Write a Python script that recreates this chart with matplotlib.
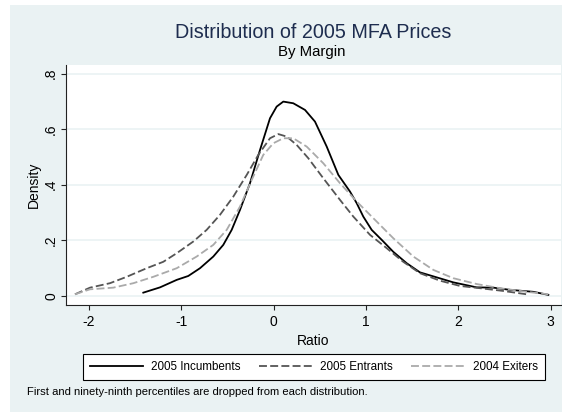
import matplotlib
matplotlib.use('Agg')
import matplotlib.pyplot as plt
from matplotlib.patches import Rectangle

plt.rcParams['font.family'] = ['Liberation Sans', 'DejaVu Sans']

# kernel density curves
inc_x = [-1.412, -1.231, -1.05, -0.925, -0.798, -0.654, -0.546, -0.455, -0.365, -0.257,
         -0.148, -0.040, 0.032, 0.104, 0.212, 0.339, 0.447, 0.574, 0.700, 0.826,
         0.899, 0.970, 1.061, 1.170, 1.295, 1.440, 1.584, 1.765, 1.945, 2.198,
         2.378, 2.559, 2.811, 2.974]
inc_y = [0.011, 0.030, 0.057, 0.071, 0.099, 0.141, 0.183, 0.237, 0.309, 0.405,
         0.525, 0.639, 0.681, 0.699, 0.693, 0.669, 0.627, 0.537, 0.435, 0.375,
         0.333, 0.285, 0.237, 0.201, 0.158, 0.117, 0.084, 0.066, 0.048, 0.030,
         0.029, 0.021, 0.014, 0.003]

ent_x = [-2.152, -1.989, -1.773, -1.592, -1.375, -1.196, -1.050, -0.871, -0.726, -0.582,
         -0.437, -0.292, -0.167, -0.040, 0.050, 0.141, 0.249, 0.375, 0.537, 0.718,
         0.862, 1.043, 1.224, 1.403, 1.584, 1.801, 2.018, 2.234, 2.487, 2.740]
ent_y = [0.005, 0.029, 0.045, 0.068, 0.099, 0.122, 0.153, 0.195, 0.237, 0.291,
         0.357, 0.435, 0.507, 0.567, 0.582, 0.573, 0.543, 0.495, 0.423, 0.345,
         0.285, 0.219, 0.171, 0.122, 0.081, 0.054, 0.035, 0.027, 0.017, 0.005]

exi_x = [-2.152, -1.989, -1.737, -1.520, -1.304, -1.050, -0.834, -0.654, -0.509, -0.365,
         -0.238, -0.113, -0.004, 0.104, 0.212, 0.357, 0.537, 0.718, 0.899, 1.079,
         1.295, 1.512, 1.728, 1.945, 2.198, 2.451, 2.740, 2.974]
exi_y = [0.005, 0.023, 0.029, 0.045, 0.068, 0.099, 0.141, 0.183, 0.237, 0.321,
         0.417, 0.507, 0.549, 0.567, 0.567, 0.537, 0.477, 0.405, 0.339, 0.279,
         0.207, 0.141, 0.093, 0.063, 0.042, 0.027, 0.014, 0.005]

x_ticks = [-2, -1, 0, 1, 2, 3]
y_ticks = [0, 0.2, 0.4, 0.6, 0.8]
y_labels = ['0', '.2', '.4', '.6', '.8']

W, H = 562, 413
bg = '#EAF2F3'

fig = plt.figure(figsize=(W / 100, H / 100), dpi=100, facecolor='white')
fig.patches.append(Rectangle((10 / W, 1 / H), (W - 10) / W, (H - 6) / H,
                             transform=fig.transFigure, facecolor=bg,
                             edgecolor='none', zorder=-5))

ax = fig.add_axes([66 / W, 1 - 305 / H, (561 - 66) / W, (305 - 64.5) / H])
ax.set_zorder(2)
ax.set_facecolor('white')

ax.plot(inc_x, inc_y, color='black', lw=1.3, label='2005 Incumbents')
ax.plot(ent_x, ent_y, color='#555555', lw=1.3, dashes=(4.4, 1.8), label='2005 Entrants')
ax.plot(exi_x, exi_y, color='#AAAAAA', lw=1.3, dashes=(4.4, 1.8), label='2004 Exiters')

ax.set_xlim(-2.249, 3.111)
ax.set_ylim(-0.0335, 0.8326)
ax.set_xticks(x_ticks)
ax.set_xticklabels([str(t) for t in x_ticks])
ax.set_yticks(y_ticks)
ax.set_yticklabels(y_labels, rotation=90, va='center')
ax.grid(axis='y', color=bg, lw=1.2)
ax.set_axisbelow(True)

for s in ['top', 'right']:
    ax.spines[s].set_visible(False)
for s in ['left', 'bottom']:
    ax.spines[s].set_linewidth(0.8)
    ax.spines[s].set_color('#222222')

ax.tick_params(axis='both', length=3.6, width=0.8, color='#222222', labelsize=10)
ax.tick_params(axis='x', pad=3.5)
ax.tick_params(axis='y', pad=2.0)

ax.set_xlabel('Ratio', fontsize=10, labelpad=3.5)
ax.set_ylabel('Density', fontsize=10, labelpad=2.5)

fig.text(313.5 / W, 1 - 38.3 / H, 'Distribution of 2005 MFA Prices',
         ha='center', va='baseline', fontsize=14.2, color='#1E2D4F')
fig.text(312 / W, 1 - 56 / H, 'By Margin', ha='center', va='baseline',
         fontsize=10.8, color='black')

leg = fig.legend(loc='center', bbox_to_anchor=(313.7 / W, 1 - 367 / H),
                 ncol=3, fontsize=8.4, frameon=True, fancybox=False,
                 edgecolor='black', facecolor='white', framealpha=1,
                 handlelength=4.6, handletextpad=0.68, columnspacing=1.55,
                 borderpad=0.6)
leg.get_frame().set_linewidth(0.8)

fig.text(26.7 / W, 1 - 391.7 / H,
         'First and ninety-ninth percentiles are dropped from each distribution.',
         ha='left', va='center', fontsize=8.1)

fig.savefig('out.png', dpi=100, facecolor='white')
